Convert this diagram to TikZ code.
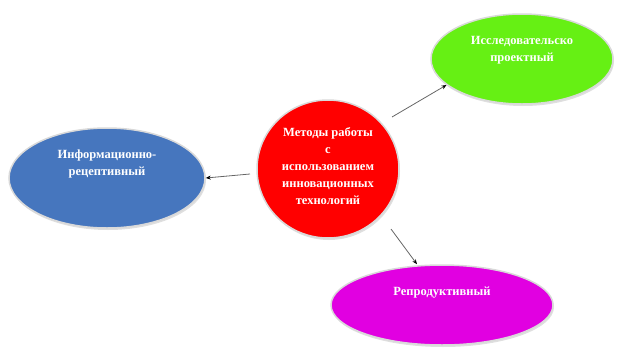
\documentclass[tikz,border=0pt]{standalone}
\usepackage{fontspec}
\setmainfont{Liberation Serif}
\usetikzlibrary{shapes.geometric,arrows.meta,shadows}
\begin{document}
\begin{tikzpicture}[x=1pt,y=-1pt,
  blob/.style={ellipse,draw=white!85!black,line width=1.5pt,inner sep=0pt,
    drop shadow={shadow xshift=1pt,shadow yshift=-2pt,opacity=0.25}},
  txt/.style={font=\bfseries\fontsize{12.5}{17}\selectfont,text=white,align=center,inner sep=0pt},
  link/.style={draw=black!60,line width=0.8pt,-{Stealth[length=5pt,width=4pt,black]}}]
\useasboundingbox (0,0) rectangle (622,354);
\node[blob,fill=red,minimum width=142pt,minimum height=138pt] (c) at (328,169) {};
\node[txt] (ct) at ([yshift=3pt]c.center)
  {Методы работы\\с\\использованием\\инновационных\\технологий};
\node[blob,fill={rgb,255:red,102;green,240;blue,20},minimum width=182pt,minimum height=90pt] (g) at (522,59) {};
\node[txt] (gt) at ([yshift=9pt]g.center) {Исследовательско\\проектный};
\node[blob,fill={rgb,255:red,70;green,118;blue,190},minimum width=196pt,minimum height=100pt] (b) at (107,178) {};
\node[txt] (bt) at ([yshift=14pt]b.center) {Информационно-\\рецептивный};
\node[blob,fill={rgb,255:red,225;green,0;blue,225},minimum width=222pt,minimum height=80pt] (m) at (442,305) {};
\node[txt] (mt) at ([yshift=12pt]m.center) {Репродуктивный};
\coordinate (s1) at (250,174);
\coordinate (s2) at (392,117);
\coordinate (s3) at (391,229);
\draw[link] (s1) -- (b.east);
\draw[link] (s2) -- (g.199);
\draw[link] (s3) -- ([xshift=-25pt]m.north);
\end{tikzpicture}
\end{document}
